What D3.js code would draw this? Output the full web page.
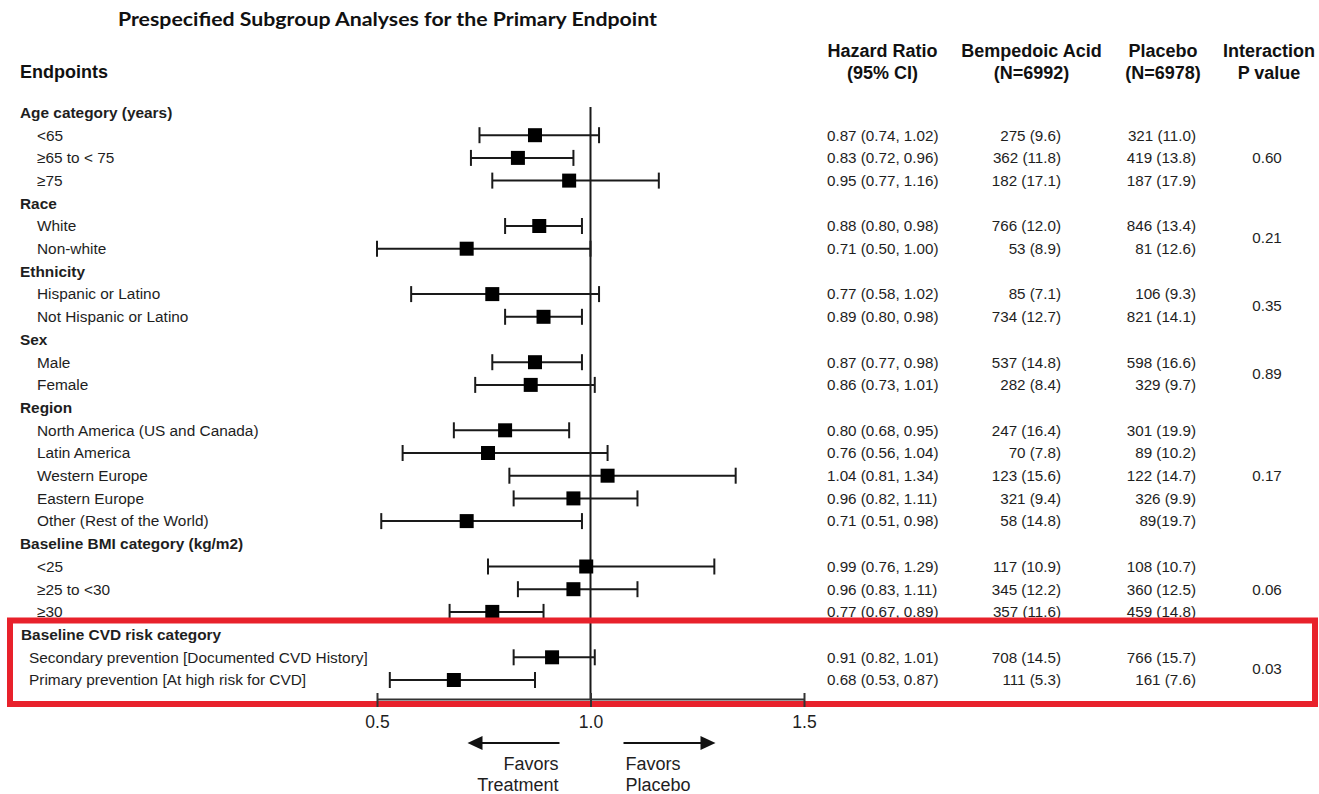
<!DOCTYPE html>
<html><head><meta charset="utf-8">
<script src="https://cdn.jsdelivr.net/npm/d3@7"></script>
<style>
body{margin:0;background:#fff;}
svg{display:block;}
text{font-family:"Liberation Sans",Arial,sans-serif;fill:#1e1e1e;}
</style>
</head><body><svg id="c" width="1319" height="794"></svg>
<script>
// ---------- data ----------
const title = "Prespecified Subgroup Analyses for the Primary Endpoint";
const groupNames = ["Age category (years)", "Race", "Ethnicity", "Sex", "Region", "Baseline BMI category (kg/m2)", "Baseline CVD risk category"];
const groupSizes = [3, 2, 2, 2, 5, 3, 2];
const subgroups = ["<65", "≥65 to < 75", "≥75", "White", "Non-white", "Hispanic or Latino", "Not Hispanic or Latino", "Male", "Female",
  "North America (US and Canada)", "Latin America", "Western Europe", "Eastern Europe", "Other (Rest of the World)",
  "<25", "≥25 to <30", "≥30", "Secondary prevention [Documented CVD History]", "Primary prevention [At high risk for CVD]"];
const hr = [0.87, 0.83, 0.95, 0.88, 0.71, 0.77, 0.89, 0.87, 0.86, 0.80, 0.76, 1.04, 0.96, 0.71, 0.99, 0.96, 0.77, 0.91, 0.68];
const ciLow = [0.74, 0.72, 0.77, 0.80, 0.50, 0.58, 0.80, 0.77, 0.73, 0.68, 0.56, 0.81, 0.82, 0.51, 0.76, 0.83, 0.67, 0.82, 0.53];
const ciHigh = [1.02, 0.96, 1.16, 0.98, 1.00, 1.02, 0.98, 0.98, 1.01, 0.95, 1.04, 1.34, 1.11, 0.98, 1.29, 1.11, 0.89, 1.01, 0.87];
const bempedoic = ["275 (9.6)", "362 (11.8)", "182 (17.1)", "766 (12.0)", "53 (8.9)", "85 (7.1)", "734 (12.7)", "537 (14.8)", "282 (8.4)",
  "247 (16.4)", "70 (7.8)", "123 (15.6)", "321 (9.4)", "58 (14.8)", "117 (10.9)", "345 (12.2)", "357 (11.6)", "708 (14.5)", "111 (5.3)"];
const placebo = ["321 (11.0)", "419 (13.8)", "187 (17.9)", "846 (13.4)", "81 (12.6)", "106 (9.3)", "821 (14.1)", "598 (16.6)", "329 (9.7)",
  "301 (19.9)", "89 (10.2)", "122 (14.7)", "326 (9.9)", "89(19.7)", "108 (10.7)", "360 (12.5)", "459 (14.8)", "766 (15.7)", "161 (7.6)"];
const pValues = ["0.60", "0.21", "0.35", "0.89", "0.17", "0.06", "0.03"];
const xTicks = [0.5, 1.0, 1.5];
const colHeaders = [["Hazard Ratio", "(95% CI)"], ["Bempedoic Acid", "(N=6992)"], ["Placebo", "(N=6978)"], ["Interaction", "P value"]];

// ---------- layout ----------
const svg = d3.select("#c");
const x = d3.scaleLinear().domain([0.5, 1.5]).range([377, 804]);
const nRows = groupNames.length + subgroups.length;
const y = d3.scaleLinear().domain([0, nRows - 1]).range([112.5, 680]);
const f2 = d3.format(".2f");

// Build rows
const rows = [];
let si = 0, ri = 0;
groupNames.forEach((g, gi) => {
  rows.push({type: "header", label: g, row: ri++, group: gi});
  for (let k = 0; k < groupSizes[gi]; k++) {
    rows.push({type: "item", label: subgroups[si], row: ri++, group: gi, i: si});
    si++;
  }
});
const items = rows.filter(r => r.type === "item");

// Title
svg.append("text").attr("x", 118).attr("y", 20).attr("dy", "0.35em")
  .style("font-family", "Lato, 'Open Sans', sans-serif").style("font-weight", 700).style("font-size", "18.5px")
  .attr("textLength", 539).attr("lengthAdjust", "spacingAndGlyphs")
  .style("fill", "#111").text(title);

// Endpoints header
svg.append("text").attr("x", 20).attr("y", 72).attr("dy", "0.35em")
  .style("font-weight", 700).style("font-size", "18px").style("fill", "#111").text("Endpoints");

// Column headers
const colCenters = [882.5, 1031.5, 1163, 1269];
colHeaders.forEach((h, ci) => {
  h.forEach((line, li) => {
    svg.append("text").attr("x", colCenters[ci]).attr("y", 50.5 + li * 22).attr("dy", "0.35em")
      .attr("text-anchor", "middle").style("font-weight", 700).style("font-size", "18px").style("fill", "#111").text(line);
  });
});

// Row labels
svg.append("g").selectAll("text").data(rows).join("text")
  .attr("x", d => d.type === "header" ? (d.group === groupNames.length - 1 ? 21 : 20) : (d.group === groupNames.length - 1 ? 29 : 37))
  .attr("y", d => y(d.row)).attr("dy", "0.35em")
  .style("font-size", "15.4px")
  .style("font-weight", d => d.type === "header" ? 700 : 400)
  .text(d => d.label);

// Data columns
const dataG = svg.append("g").style("font-size", "15.2px");
dataG.selectAll("text.hr").data(items).join("text").attr("class", "hr")
  .attr("x", 827).attr("y", d => y(d.row)).attr("dy", "0.35em")
  .text(d => `${f2(hr[d.i])} (${f2(ciLow[d.i])}, ${f2(ciHigh[d.i])})`);
dataG.selectAll("text.bm").data(items).join("text").attr("class", "bm")
  .attr("x", 1061).attr("y", d => y(d.row)).attr("dy", "0.35em").attr("text-anchor", "end")
  .text(d => bempedoic[d.i]);
dataG.selectAll("text.pl").data(items).join("text").attr("class", "pl")
  .attr("x", 1196).attr("y", d => y(d.row)).attr("dy", "0.35em").attr("text-anchor", "end")
  .text(d => placebo[d.i]);
// P values centred on each group's subgroup rows
dataG.selectAll("text.pv").data(groupNames).join("text").attr("class", "pv")
  .attr("x", 1267).attr("text-anchor", "middle").attr("dy", "0.35em")
  .attr("y", (g, gi) => d3.mean(items.filter(r => r.group === gi), r => y(r.row)))
  .text((g, gi) => pValues[gi]);

// Forest marks
const marks = svg.append("g").attr("stroke", "#1a1a1a").attr("stroke-width", 2);
marks.selectAll("line.ci").data(items).join("line").attr("class", "ci")
  .attr("x1", d => x(ciLow[d.i])).attr("x2", d => x(ciHigh[d.i]))
  .attr("y1", d => y(d.row)).attr("y2", d => y(d.row));
marks.selectAll("line.capL").data(items).join("line").attr("class", "capL")
  .attr("x1", d => x(ciLow[d.i])).attr("x2", d => x(ciLow[d.i]))
  .attr("y1", d => y(d.row) - 8).attr("y2", d => y(d.row) + 8);
marks.selectAll("line.capR").data(items).join("line").attr("class", "capR")
  .attr("x1", d => x(ciHigh[d.i])).attr("x2", d => x(ciHigh[d.i]))
  .attr("y1", d => y(d.row) - 8).attr("y2", d => y(d.row) + 8);
// Reference line at HR = 1
svg.append("line").attr("x1", x(1)).attr("x2", x(1)).attr("y1", 107).attr("y2", 699)
  .attr("stroke", "#1a1a1a").attr("stroke-width", 2);
svg.append("g").selectAll("rect").data(items).join("rect")
  .attr("x", d => x(hr[d.i]) - 7).attr("y", d => y(d.row) - 7)
  .attr("width", 14).attr("height", 14).attr("fill", "#000");

// Red highlight box
svg.append("rect").attr("x", 10).attr("y", 620.5).attr("width", 1305).attr("height", 83.5)
  .attr("fill", "none").attr("stroke", "#e8212b").attr("stroke-width", 6);

// Axis
const axis = svg.append("g").attr("transform", "translate(0,699)")
  .call(d3.axisBottom(x).tickValues(xTicks).tickFormat(d3.format(".1f")).tickSizeInner(8).tickSizeOuter(0));
axis.select(".domain").attr("stroke", "#333").attr("stroke-width", 2);
axis.selectAll(".tick line").attr("stroke", "#333").attr("stroke-width", 2).attr("y1", -6).attr("y2", 8);
axis.selectAll(".tick text").attr("y", 17).style("font-size", "17.5px")
  .style("font-family", "'Liberation Sans', Arial, sans-serif").attr("fill", "#1e1e1e");

// Favors arrows
const arrows = svg.append("g").attr("stroke", "#111").attr("stroke-width", 2.2);
const ay = 743;
arrows.append("line").attr("x1", x(1) - 31).attr("x2", x(1) - 112).attr("y1", ay).attr("y2", ay);
arrows.append("path").attr("d", `M${x(1) - 123},${ay} L${x(1) - 108},${ay - 7} L${x(1) - 108},${ay + 7} Z`).attr("fill", "#111").attr("stroke", "none");
arrows.append("line").attr("x1", x(1) + 33).attr("x2", x(1) + 114).attr("y1", ay).attr("y2", ay);
arrows.append("path").attr("d", `M${x(1) + 125},${ay} L${x(1) + 110},${ay - 7} L${x(1) + 110},${ay + 7} Z`).attr("fill", "#111").attr("stroke", "none");
const fav = svg.append("g").style("font-size", "18px");
fav.append("text").attr("x", x(1) - 32).attr("y", 764).attr("dy", "0.35em").attr("text-anchor", "end").text("Favors");
fav.append("text").attr("x", x(1) - 32).attr("y", 785).attr("dy", "0.35em").attr("text-anchor", "end").text("Treatment");
fav.append("text").attr("x", x(1) + 35).attr("y", 764).attr("dy", "0.35em").text("Favors");
fav.append("text").attr("x", x(1) + 35).attr("y", 785).attr("dy", "0.35em").text("Placebo");
</script></body></html>
